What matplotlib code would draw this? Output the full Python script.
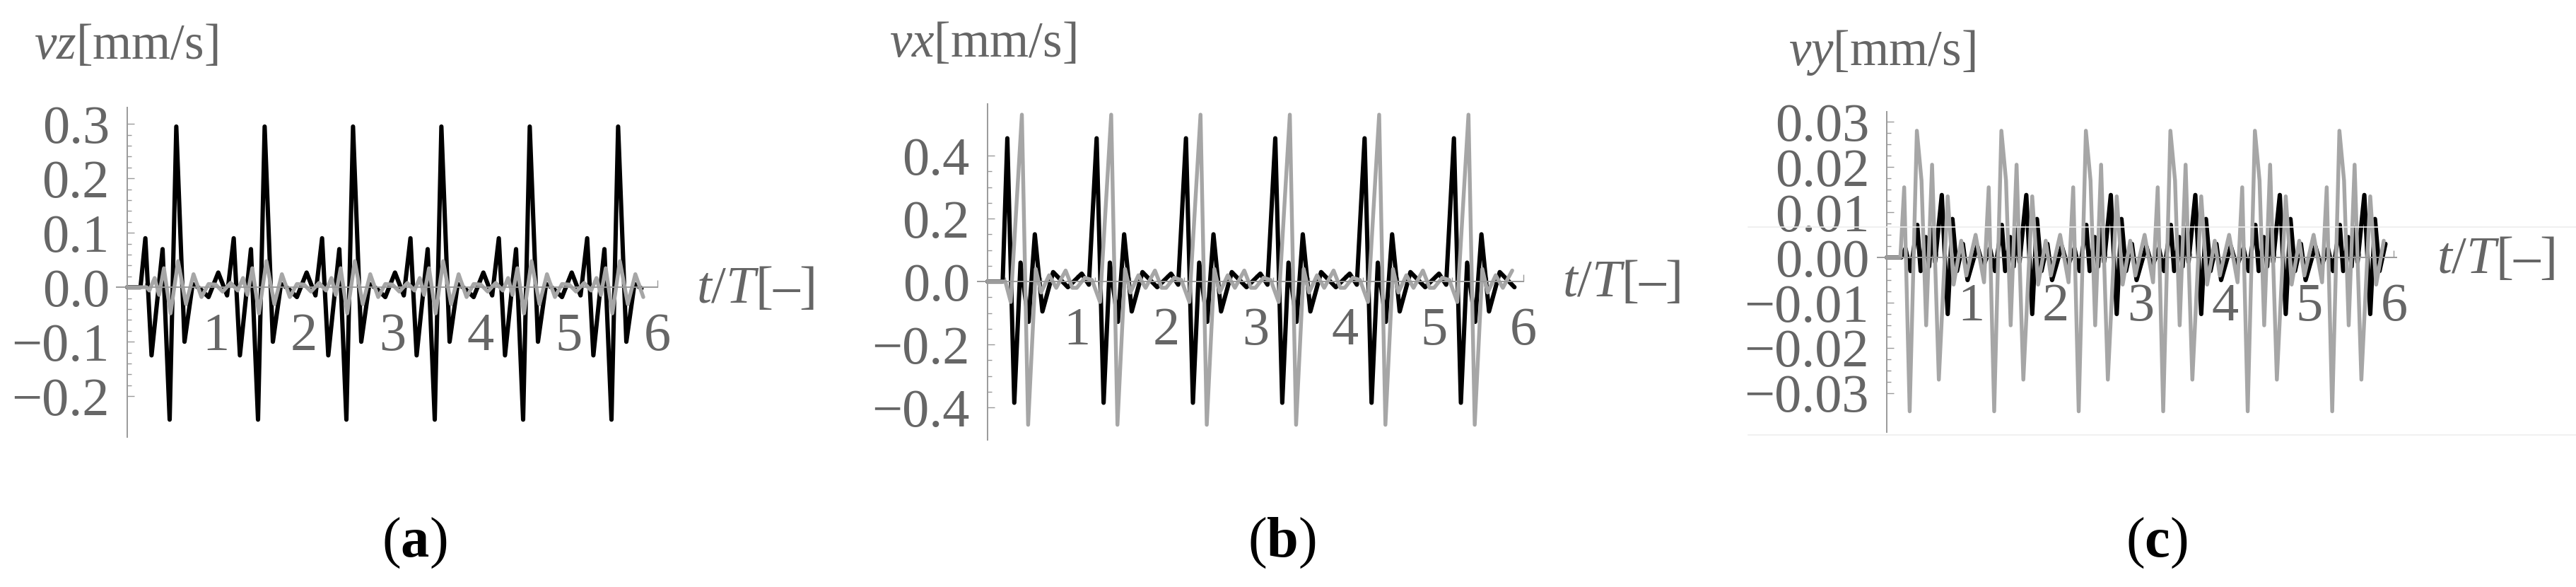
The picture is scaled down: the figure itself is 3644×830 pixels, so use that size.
import matplotlib
matplotlib.use("Agg")
import matplotlib.pyplot as plt
import numpy as np
from matplotlib.lines import Line2D

plt.rcParams['font.family'] = ['Liberation Serif', 'DejaVu Serif']
plt.rcParams['mathtext.fontset'] = 'custom'
plt.rcParams['mathtext.rm'] = 'Liberation Serif'
plt.rcParams['mathtext.it'] = 'Liberation Serif:italic'
plt.rcParams['mathtext.bf'] = 'Liberation Serif:bold'

# one period of each signal: (offset within period, value)
# panel (a) vz
a_blk_off = [0.03, 0.13, 0.205, 0.275, 0.40, 0.48, 0.555, 0.648, 0.74, 0.82, 0.92]
a_blk_val = [0.027, -0.015, 0.09, -0.125, 0.07, -0.243, 0.295, -0.10, 0.006, -0.002, -0.018]
a_gry_off = [0.0, 0.08, 0.17, 0.25, 0.31, 0.36, 0.415, 0.49, 0.575, 0.665, 0.75, 0.84, 0.92]
a_gry_val = [0.005, -0.008, 0.008, -0.006, 0.017, -0.014, 0.035, -0.048, 0.048, -0.031, 0.024, -0.018, 0.006]

# panel (b) vx
b_blk_off = [0.055, 0.135, 0.222, 0.30, 0.37, 0.46, 0.53, 0.615, 0.735, 0.90]
b_blk_val = [0.025, -0.01, 0.455, -0.385, 0.06, -0.128, 0.15, -0.095, 0.03, -0.018]
b_gry_off = [0.0, 0.09, 0.17, 0.26, 0.385, 0.455, 0.54, 0.60, 0.69, 0.77, 0.875, 0.95]
b_gry_val = [-0.02, 0.012, 0.005, -0.065, 0.53, -0.455, 0.04, -0.035, 0.02, -0.02, 0.035, -0.02]

# panel (c) vy
c_blk_off = [0.07, 0.14, 0.22, 0.28, 0.36, 0.40, 0.46, 0.50, 0.53, 0.57, 0.65, 0.72, 0.776, 0.83, 0.90, 0.955]
c_blk_val = [0.0025, -0.002, 0.002, -0.003, 0.0072, -0.003, 0.0045, -0.002, 0.0065, -0.001, 0.0138, -0.0125, 0.0085, -0.003, 0.003, -0.005]
c_gry_off = [0.05, 0.15, 0.205, 0.27, 0.355, 0.41, 0.465, 0.535, 0.615, 0.72, 0.79, 0.88, 0.94]
c_gry_val = [0.005, -0.0055, 0.0155, -0.034, 0.028, 0.017, -0.015, 0.0205, -0.027, 0.0135, -0.006, 0.0037, -0.004]

n_periods = 6

x_ticks = [1, 2, 3, 4, 5, 6]
a_yticks = [-0.2, -0.1, 0.0, 0.1, 0.2, 0.3]
a_ylabels = ['\u22120.2', '\u22120.1', '0.0', '0.1', '0.2', '0.3']
b_yticks = [-0.4, -0.2, 0.0, 0.2, 0.4]
b_ylabels = ['\u22120.4', '\u22120.2', '0.0', '0.2', '0.4']
c_yticks = [-0.03, -0.02, -0.01, 0.0, 0.01, 0.02, 0.03]
c_ylabels = ['\u22120.03', '\u22120.02', '\u22120.01', '0.00', '0.01', '0.02', '0.03']


def build(off, val, start, end):
    t = [0.0, start]
    v = [0.0, 0.0]
    for k in range(n_periods):
        for o, y in zip(off, val):
            if start < k + o <= end:
                t.append(k + o)
                v.append(y)
    return np.array(t), np.array(v)


W, H = 3644, 830
fig = plt.figure(figsize=(W / 100, H / 100), dpi=100)

AX_GRAY = '#9a9a9a'
TXT_GRAY = '#666666'


def panel(rect_px, xlim, ylim, blk, gry, yticks, ylabels, ymin_step):
    l, t, r, b = rect_px
    ax = fig.add_axes([l / W, 1 - b / H, (r - l) / W, (b - t) / H])
    ax.plot(*blk, color='black', lw=4.4, solid_joinstyle='round', solid_capstyle='round', zorder=2)
    ax.plot(*gry, color='#a6a6a6', lw=3.9, solid_joinstyle='round', solid_capstyle='round', zorder=3)
    ax.set_xlim(*xlim)
    ax.set_ylim(*ylim)
    for s in ['top', 'right']:
        ax.spines[s].set_visible(False)
    ax.spines['left'].set_position(('data', 0))
    ax.spines['bottom'].set_position(('data', 0))
    for s in ['left', 'bottom']:
        ax.spines[s].set_color(AX_GRAY)
        ax.spines[s].set_linewidth(1.4)
        ax.spines[s].set_zorder(5)
    ax.set_xticks(x_ticks)
    ax.set_xticklabels([str(v) for v in x_ticks])
    ax.set_xticks(np.arange(0.2, 6.0, 0.2), minor=True)
    ax.set_yticks(yticks)
    ax.set_yticklabels(ylabels)
    ax.set_yticks(np.arange(yticks[0], yticks[-1] + ymin_step / 2, ymin_step), minor=True)
    ax.tick_params(which='both', direction='in', color=AX_GRAY, width=1.0,
                   labelcolor=TXT_GRAY, labelsize=55)
    ax.tick_params(which='major', length=7)
    ax.tick_params(which='minor', length=4)
    ax.tick_params(axis='y', pad=18)
    ax.tick_params(axis='x', pad=26)
    ax.patch.set_alpha(0)
    return ax


panel((165, 152, 930, 618), (-0.12, 6.0), (-0.275, 0.33),
      build(a_blk_off, a_blk_val, 0.15, 5.86), build(a_gry_off, a_gry_val, 0.22, 5.86),
      a_yticks, a_ylabels, 0.02)
panel((1383, 147, 2155, 622), (-0.11, 6.0), (-0.503, 0.564),
      build(b_blk_off, b_blk_val, 0.17, 5.9), build(b_gry_off, b_gry_val, 0.2, 5.9),
      b_yticks, b_ylabels, 0.05)
panel((2656, 158, 3390, 611), (-0.11, 6.03), (-0.0386, 0.0322),
      build(c_blk_off, c_blk_val, 0.17, 5.93), build(c_gry_off, c_gry_val, 0.16, 5.93),
      c_yticks, c_ylabels, 0.0025)

# faint frame lines visible in panel (c)
for yy in [321, 615]:
    fig.add_artist(Line2D([2473 / W, 1.0], [1 - yy / H] * 2, color='#eeeeee', lw=1.2))

ylabs = [(48, 83, r'$vz$[mm/s]'), (1258, 80, r'$vx$[mm/s]'), (2530, 92, r'$vy$[mm/s]')]
for x, y, s in ylabs:
    fig.text(x / W, 1 - y / H, s, ha='left', va='baseline', fontsize=51, color=TXT_GRAY)

xlabs = [(985, 428), (2210, 419), (3447, 386)]
for x, y in xlabs:
    fig.text(x / W, 1 - y / H, '$t/T$[\u2013]', ha='left', va='baseline', fontsize=54, color=TXT_GRAY)

for x, s in [(586, 'a'), (1813, 'b'), (3051, 'c')]:
    fig.text(x / W, 1 - 787 / H, '($\\mathbf{' + s + '}$)', ha='center', va='baseline',
             fontsize=58, color='black')

fig.savefig('out.png', dpi=100)
